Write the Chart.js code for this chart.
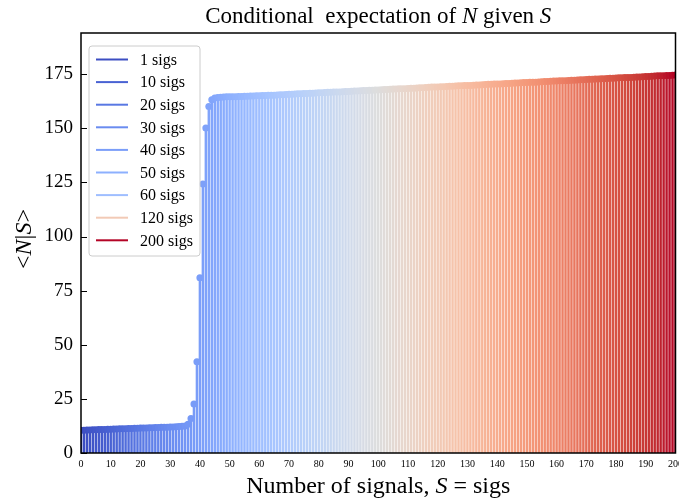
<!DOCTYPE html>
<html>
<head>
<meta charset="utf-8">
<script src="https://cdn.jsdelivr.net/npm/chart.js"></script>
<style>
  body { margin: 0; background: #fff; }
  #wrap { width: 679px; height: 502px; }
</style>
</head>
<body>
<div id="wrap"><canvas id="sigs-chart" width="679" height="502"></canvas></div>
<script>
// number of signals S (one stem per value)
const signals = Array.from({length: 201}, (_, i) => i);

// <N|S>, S = 0..200
const expectedN = [
  10.5, 10.55, 10.6, 10.65, 10.7, 10.75, 10.8, 10.85, 10.9, 10.95,
  11.0, 11.05, 11.1, 11.15, 11.2, 11.25, 11.3, 11.35, 11.4, 11.45,
  11.5, 11.55, 11.6, 11.65, 11.7, 11.75, 11.8, 11.85, 11.9, 11.95,
  12.0, 12.05, 12.1, 12.2, 12.3, 12.5, 13.3, 15.9, 22.6, 42.2,
  81.0, 124.2, 150.1, 160.0, 163.2, 164.0, 164.2, 164.3, 164.4, 164.5,
  164.5, 164.6, 164.6, 164.7, 164.7, 164.8, 164.8, 164.9, 164.9, 165.0,
  165.0, 165.1, 165.1, 165.2, 165.3, 165.3, 165.4, 165.5, 165.5, 165.6,
  165.7, 165.7, 165.8, 165.9, 165.9, 166.0, 166.1, 166.2, 166.2, 166.3,
  166.4, 166.4, 166.5, 166.6, 166.6, 166.7, 166.8, 166.8, 166.9, 167.0,
  167.0, 167.1, 167.2, 167.2, 167.3, 167.4, 167.4, 167.5, 167.6, 167.7,
  167.7, 167.8, 167.9, 167.9, 168.0, 168.1, 168.1, 168.2, 168.3, 168.3,
  168.4, 168.5, 168.5, 168.6, 168.7, 168.7, 168.8, 168.9, 169.0, 169.0,
  169.1, 169.2, 169.2, 169.3, 169.4, 169.4, 169.5, 169.6, 169.6, 169.7,
  169.8, 169.8, 169.9, 170.0, 170.0, 170.1, 170.2, 170.3, 170.3, 170.4,
  170.5, 170.5, 170.6, 170.7, 170.7, 170.8, 170.9, 170.9, 171.0, 171.1,
  171.1, 171.2, 171.3, 171.3, 171.4, 171.5, 171.6, 171.6, 171.7, 171.8,
  171.8, 171.9, 172.0, 172.0, 172.1, 172.2, 172.2, 172.3, 172.4, 172.4,
  172.5, 172.6, 172.6, 172.7, 172.8, 172.9, 172.9, 173.0, 173.1, 173.1,
  173.2, 173.3, 173.3, 173.4, 173.5, 173.5, 173.6, 173.7, 173.7, 173.8,
  173.9, 173.9, 174.0, 174.1, 174.2, 174.2, 174.3, 174.4, 174.4, 174.5,
  174.6
];

// legend entries
const legendSigs = [1, 10, 20, 30, 40, 50, 60, 120, 200];

// tick labels
const xTicks = [0, 10, 20, 30, 40, 50, 60, 70, 80, 90, 100, 110, 120, 130, 140, 150, 160, 170, 180, 190, 200];
const yTicks = [0, 25, 50, 75, 100, 125, 150, 175];

const SERIF = '"Liberation Serif", "DejaVu Serif", serif';

// matplotlib coolwarm
const coolwarmStops = [
  [59,76,192],[68,90,204],[77,104,215],[87,117,225],[98,130,234],[108,142,241],
  [119,154,247],[130,165,251],[141,176,254],[152,185,255],[163,194,255],[174,201,253],
  [184,208,249],[194,213,244],[204,217,238],[213,219,230],[221,221,221],[229,216,209],
  [236,211,197],[241,204,184],[245,196,172],[247,187,160],[247,177,148],[247,166,135],
  [244,154,123],[241,141,112],[236,127,101],[229,112,90],[222,96,77],[213,80,66],
  [203,62,56],[192,40,47],[180,4,38]
];
function coolwarm(t){
  t = Math.min(1, Math.max(0, t));
  let p = t * (coolwarmStops.length - 1);
  let i = Math.min(Math.floor(p), coolwarmStops.length - 2);
  let f = p - i;
  let a = coolwarmStops[i], b = coolwarmStops[i + 1];
  let c = a.map((v, k) => Math.round(v + (b[k] - v) * f));
  return 'rgb(' + c.join(',') + ')';
}

let colors = signals.map(s => coolwarm(s / 200));
let points = signals.map((s, i) => ({x: s, y: expectedN[i]}));

// draw a run of text pieces, some italic
function drawRich(ctx, parts, size, cx, cy){
  let widths = parts.map(p => {
    ctx.font = (p[1] ? 'italic ' : '') + size + 'px ' + SERIF;
    return ctx.measureText(p[0]).width;
  });
  let total = widths.reduce((a, b) => a + b, 0);
  let x = cx - total / 2;
  ctx.textBaseline = 'middle';
  ctx.textAlign = 'left';
  parts.forEach((p, i) => {
    ctx.font = (p[1] ? 'italic ' : '') + size + 'px ' + SERIF;
    ctx.fillText(p[0], x, cy);
    x += widths[i];
  });
}

const decorPlugin = {
  id: 'decor',
  afterDraw(chart){
    let ctx = chart.ctx;
    let area = chart.chartArea;
    let yScale = chart.scales.y;
    ctx.save();
    ctx.fillStyle = '#000';

    // frame
    ctx.strokeStyle = '#000';
    ctx.lineWidth = 1.5;
    ctx.strokeRect(area.left, area.top, area.right - area.left, area.bottom - area.top);

    // inward y ticks
    ctx.lineWidth = 1;
    yTicks.forEach(v => {
      let y = Math.round(yScale.getPixelForValue(v)) + 0.5;
      ctx.beginPath();
      ctx.moveTo(area.left, y);
      ctx.lineTo(area.left + 6, y);
      ctx.stroke();
    });

    // title and axis labels
    let cx = (area.left + area.right) / 2;
    drawRich(ctx, [['Conditional  expectation of ', false], ['N', true], [' given ', false], ['S', true]], 23, cx, 17);
    drawRich(ctx, [['Number of signals, ', false], ['S', true], [' = sigs', false]], 24, cx, 487);
    ctx.save();
    ctx.translate(25, (area.top + area.bottom) / 2 - 4);
    ctx.rotate(-Math.PI / 2);
    drawRich(ctx, [['<', false], ['N', true], ['|', false], ['S', true], ['>', false]], 24, 0, 0);
    ctx.restore();

    // legend box
    let bx = 89, by = 46, bw = 111, bh = 210;
    ctx.beginPath();
    ctx.roundRect(bx, by, bw, bh, 3);
    ctx.fillStyle = 'rgba(255,255,255,0.8)';
    ctx.fill();
    ctx.strokeStyle = '#cccccc';
    ctx.lineWidth = 1;
    ctx.stroke();
    ctx.font = '16px ' + SERIF;
    ctx.textBaseline = 'middle';
    ctx.textAlign = 'left';
    legendSigs.forEach((s, i) => {
      let y = 59.5 + i * 22.6;
      ctx.strokeStyle = coolwarm(s / 200);
      ctx.lineWidth = 2;
      ctx.beginPath();
      ctx.moveTo(96, y);
      ctx.lineTo(128, y);
      ctx.stroke();
      ctx.fillStyle = '#000';
      ctx.fillText(s + ' sigs', 140, y + 1);
    });
    ctx.restore();
  }
};

new Chart(document.getElementById('sigs-chart').getContext('2d'), {
  type: 'bar',
  data: {
    datasets: [
      {
        type: 'line',
        data: points,
        showLine: false,
        pointRadius: 3.5,
        pointHoverRadius: 3.5,
        pointBorderWidth: 0,
        pointBackgroundColor: colors,
        pointBorderColor: colors,
        clip: 0
      },
      {
        type: 'bar',
        data: points,
        backgroundColor: colors,
        barThickness: 1.8,
        grouped: false,
        clip: 0
      }
    ]
  },
  options: {
    responsive: false,
    animation: false,
    layout: { padding: { top: 33, right: 2, left: 0, bottom: 0 } },
    plugins: {
      legend: { display: false },
      tooltip: { enabled: false },
      title: { display: false }
    },
    scales: {
      x: {
        type: 'linear',
        min: 0,
        max: 200,
        offset: false,
        grid: { display: false, drawTicks: false },
        border: { display: false },
        afterBuildTicks: s => { s.ticks = xTicks.map(v => ({value: v})); },
        afterFit: s => { s.height = 49; s.paddingLeft = 0; s.paddingRight = 0; },
        ticks: {
          color: '#000',
          padding: 5,
          maxRotation: 0,
          autoSkip: false,
          font: { family: SERIF, size: 10 }
        }
      },
      y: {
        min: 0,
        max: 194,
        grid: { display: false, drawTicks: false },
        border: { display: false },
        afterBuildTicks: s => { s.ticks = yTicks.map(v => ({value: v})); },
        afterFit: s => { s.width = 81; s.paddingTop = 0; s.paddingBottom = 0; },
        ticks: {
          color: '#000',
          padding: 8,
          font: { family: SERIF, size: 19 }
        }
      }
    }
  },
  plugins: [decorPlugin]
});
</script>
</body>
</html>
